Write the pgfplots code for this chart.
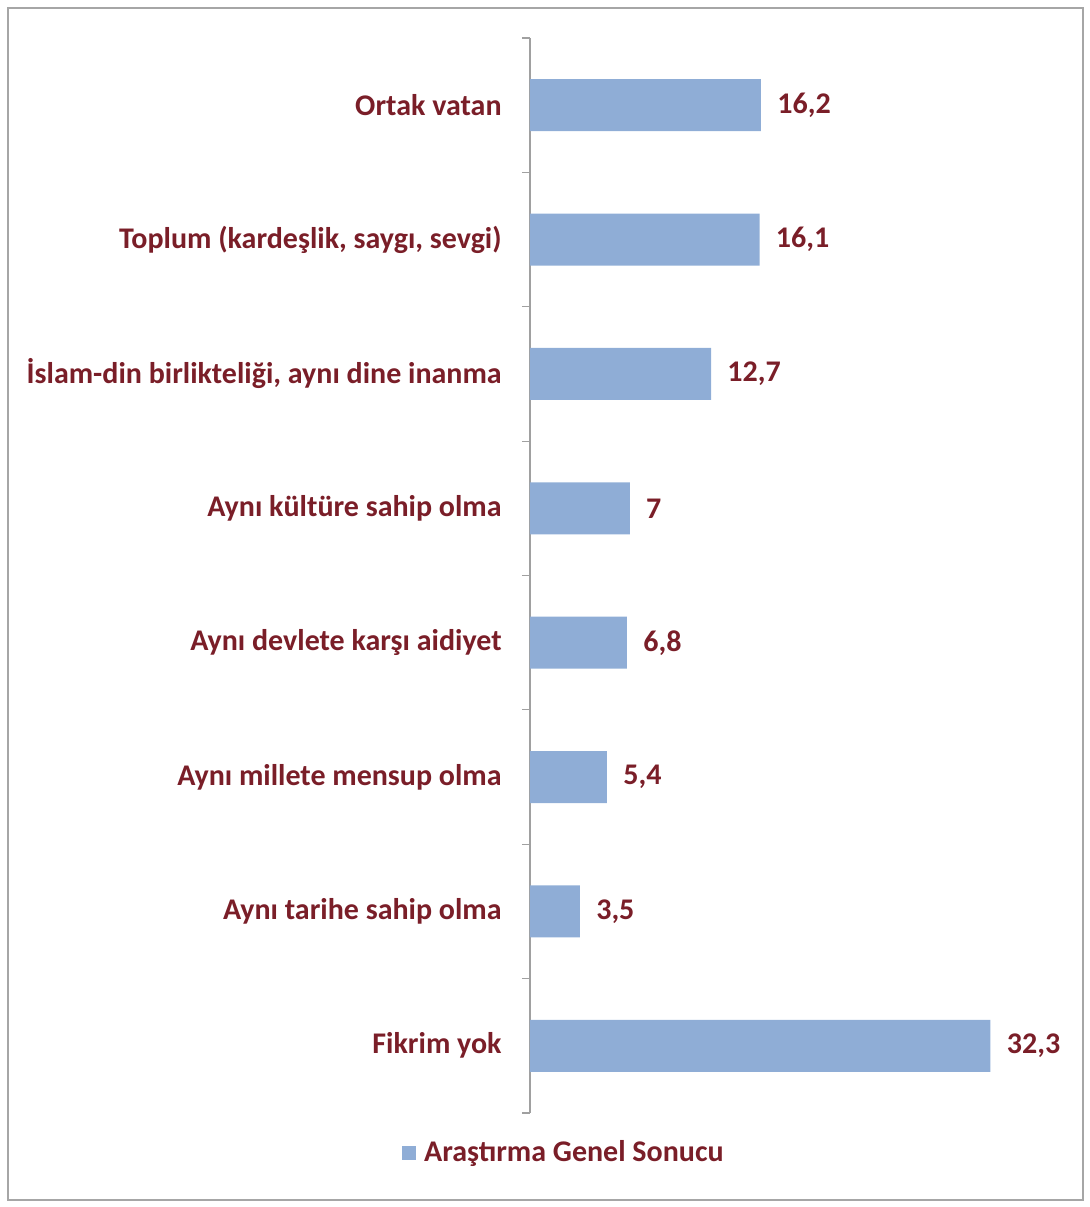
\documentclass[border=0pt]{standalone}
\usepackage{pgfplots}
\pgfplotsset{compat=1.18}
\usepackage{fontspec}
\setmainfont{Carlito}
\definecolor{barBlue}{HTML}{8FADD6}
\definecolor{labelRed}{HTML}{7A1E28}
\definecolor{frameGrey}{HTML}{A6A6A6}
\definecolor{axisGrey}{HTML}{A0A0A0}
\begin{document}
\begin{tikzpicture}
\path (0pt,0pt) rectangle (545pt,603.5pt);
\draw[frameGrey, line width=0.6pt] (4pt,3.5pt) rectangle (541.5pt,599.5pt);
\begin{axis}[
  at={(265pt,47pt)}, anchor=south west,
  scale only axis, width=249.5pt, height=537.5pt,
  xbar, bar width=26pt,
  xmin=0, xmax=35, ymin=-0.5, ymax=7.5, y dir=reverse,
  axis x line=none, axis y line*=left,
  axis line style={axisGrey, line width=0.6pt},
  ytick={0,...,7},
  yticklabels={{Ortak vatan}, {Toplum (kardeşlik, saygı, sevgi)}, {İslam-din birlikteliği, aynı dine inanma}, {Aynı kültüre sahip olma}, {Aynı devlete karşı aidiyet}, {Aynı millete mensup olma}, {Aynı tarihe sahip olma}, {Fikrim yok}},
  minor ytick={-0.5,0.5,...,7.5},
  tick align=outside, major tick length=0pt, minor tick length=4pt,
  minor tick style={axisGrey, line width=0.6pt},
  yticklabel style={font=\fontsize{15}{17}\selectfont\bfseries, text=labelRed, inner sep=0pt, xshift=-14pt},
  nodes near coords, nodes near coords align={horizontal},
  every node near coord/.append style={font=\fontsize{15}{17}\selectfont\bfseries, text=labelRed, inner sep=0pt, xshift=8pt,
    /pgf/number format/use comma, /pgf/number format/assume math mode=true},
  legend style={draw=none, fill=none, at={(0.07,-0.037)}, anchor=center, column sep=2pt,
    font=\fontsize{15}{17}\selectfont\bfseries, text=labelRed},
  legend image code/.code={\fill[barBlue] (0pt,-3.5pt) rectangle (7pt,3.5pt);},
]
\addplot[fill=barBlue, draw=none] coordinates
  {(16.2,0) (16.1,1) (12.7,2) (7,3) (6.8,4) (5.4,5) (3.5,6) (32.3,7)};
\addlegendentry{Araştırma Genel Sonucu}
\end{axis}
\end{tikzpicture}
\end{document}
